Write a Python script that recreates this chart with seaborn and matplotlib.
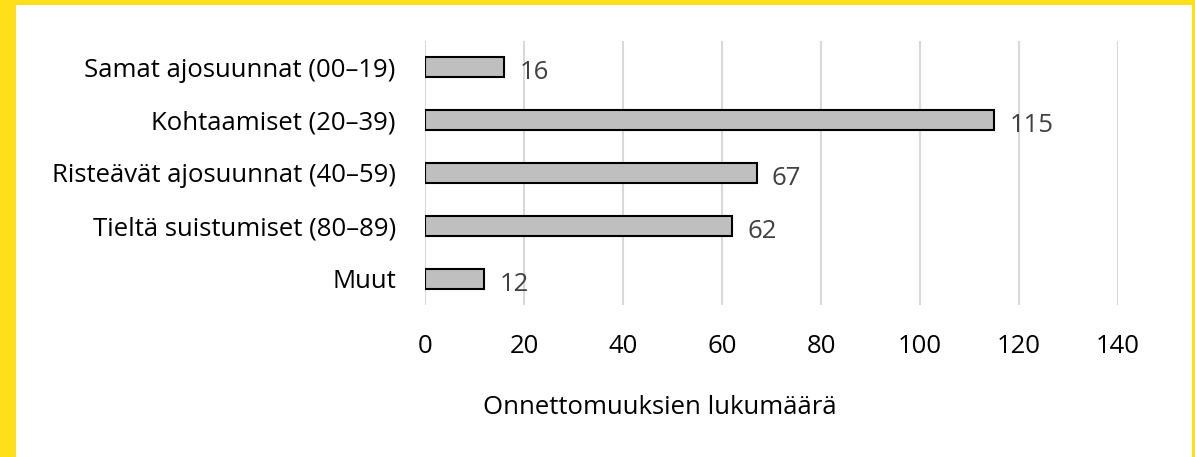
import matplotlib
matplotlib.use('Agg')
import matplotlib.pyplot as plt
import matplotlib.patches as mpatches
import pandas as pd
import seaborn as sns

# Data
categories = ['Samat ajosuunnat (00–19)', 'Kohtaamiset (20–39)',
              'Risteävät ajosuunnat (40–59)', 'Tieltä suistumiset (80–89)', 'Muut']
counts = [16, 115, 67, 62, 12]
x_ticks = [0, 20, 40, 60, 80, 100, 120, 140]

df = pd.DataFrame({'kategoria': categories, 'lukumaara': counts})

sns.set_style('white')
plt.rcParams['font.family'] = ['Open Sans', 'DejaVu Sans']

W, H = 1195, 457
FS = 18.5
fig = plt.figure(figsize=(W / 100, H / 100), dpi=100)
fig.patch.set_facecolor('#FFDE1A')
# white inner panel, yellow frame on left/top/right
fig.patches.append(mpatches.Rectangle((16 / W, 0), (1192 - 16) / W, (H - 5) / H,
                                      transform=fig.transFigure, facecolor='white',
                                      edgecolor='none', zorder=-10))

ax = fig.add_axes([425 / W, 1 - 305 / H, (1118 - 425) / W, (305 - 41) / H])
ax.set_facecolor('none')

sns.barplot(data=df, x='lukumaara', y='kategoria', orient='h', ax=ax,
            color='#BFBFBF', edgecolor='black', linewidth=1.5, width=0.38,
            saturation=1)

ax.set_xlim(0, 140)
ax.set_xticks(x_ticks)
ax.xaxis.grid(True, color='#D9D9D9', linewidth=1.5)
ax.set_axisbelow(True)
for s in ax.spines.values():
    s.set_visible(False)
ax.tick_params(axis='both', length=0, labelsize=FS, colors='black')
ax.tick_params(axis='x', pad=21)
ax.tick_params(axis='y', pad=21)
ax.set_ylabel('')
ax.set_xlabel('')

# axis title centred on the chart area, not on the axes
fig.text(660 / W, 1 - 407 / H, 'Onnettomuuksien lukumäärä', fontsize=FS,
         ha='center', va='center', color='black')

for i, v in enumerate(counts):
    ax.annotate(str(v), xy=(v, i), xytext=(11, -4), textcoords='offset points',
                ha='left', va='center', fontsize=FS, color='#404040')

fig.savefig('out.png', dpi=100, facecolor=fig.get_facecolor())
